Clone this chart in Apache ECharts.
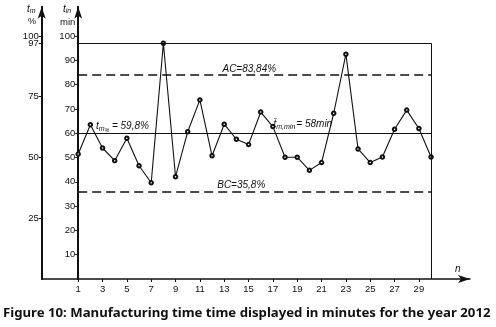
<!DOCTYPE html>
<html>
<head>
<meta charset="utf-8">
<script src="https://cdn.jsdelivr.net/npm/echarts@6/dist/echarts.min.js"></script>
<style>
  html, body { margin: 0; padding: 0; background: #fff; }
  #chart { width: 496px; height: 327px; }
</style>
</head>
<body>
<div id="chart"></div>
<script>
// measurement number n and time t_in (min)
const nValues = [1, 2, 3, 4, 5, 6, 7, 8, 9, 10, 11, 12, 13, 14, 15,
  16, 17, 18, 19, 20, 21, 22, 23, 24, 25, 26, 27, 28, 29, 30];
const timeMin = [51.4, 63.5, 53.9, 48.7, 57.9, 46.6, 39.6, 97, 42.1, 60.6,
  73.7, 50.7, 63.7, 57.5, 55.3, 68.7, 62.7, 50.1, 50.1, 44.7,
  47.9, 68.2, 92.5, 53.5, 47.9, 50.2, 61.6, 69.5, 61.9, 50.2];

// tick labels
const xTicks = [1, 3, 5, 7, 9, 11, 13, 15, 17, 19, 21, 23, 25, 27, 29];
const minTicks = [10, 20, 30, 40, 50, 60, 70, 80, 90, 100];
const pctTicks = [25, 50, 75, 97];
const pctTopTick = [100];

// reference levels
const upperLevel = 97;
const acLevel = 83.84;
const meanLevel = 59.8;
const bcLevel = 35.8;
const firstN = 1;
const lastN = 30;

var chart = echarts.init(document.getElementById('chart'));

const axisFont = { color: '#111', fontSize: 9.5, fontFamily: 'Liberation Sans' };
const labelFont = { fontFamily: 'Liberation Sans', fontSize: 10, fontStyle: 'italic', color: '#111' };

function hLine(v, dashed) {
  return [
    { coord: [firstN, v], lineStyle: { type: dashed ? [9, 5] : 'solid', width: dashed ? 1.5 : 1.2, color: '#111' } },
    { coord: [lastN, v] }
  ];
}

function yAxisOf(ticks, offset, showLine) {
  return {
    type: 'value', min: 0, max: 112, position: 'left', offset: offset,
    splitLine: { show: false },
    axisLine: { show: showLine, onZero: false, lineStyle: { color: '#111', width: 2 }, symbol: ['none', 'arrow'], symbolSize: [6, 12] },
    axisTick: { show: true, customValues: ticks, length: 3, lineStyle: { color: '#111' } },
    axisLabel: Object.assign({ customValues: ticks, margin: 3, hideOverlap: false }, axisFont)
  };
}

var option = {
  animation: false,
  grid: { left: 41.7, right: 26, top: 6.8, bottom: 48, outerBoundsMode: 'none', containLabel: false },
  xAxis: {
    type: 'value',
    min: -2,
    max: 33.2,
    splitLine: { show: false },
    axisLine: { onZero: false, lineStyle: { color: '#111', width: 1.5 }, symbol: ['none', 'arrow'], symbolSize: [6, 12] },
    axisTick: { customValues: xTicks, length: 3, lineStyle: { color: '#111' } },
    axisLabel: Object.assign({ customValues: xTicks, margin: 5, hideOverlap: false }, axisFont)
  },
  yAxis: [
    yAxisOf(pctTicks, 0, true),
    yAxisOf(minTicks, -36.5, true),
    yAxisOf(pctTopTick, 0, false)
  ],
  graphic: [
    { type: 'text', left: 27, top: 4, style: { text: '{t|t}{s|m}', rich: {
      t: { fontFamily: 'Liberation Sans', fontStyle: 'italic', fontSize: 10, fill: '#111' },
      s: { fontFamily: 'Liberation Sans', fontStyle: 'italic', fontSize: 7, fill: '#111', padding: [5, 0, 0, 0] } } } },
    { type: 'text', left: 28, top: 17, style: { text: '%', font: '9px Liberation Sans', fill: '#111' } },
    { type: 'text', left: 63, top: 4, style: { text: '{t|t}{s|in}', rich: {
      t: { fontFamily: 'Liberation Sans', fontStyle: 'italic', fontSize: 10, fill: '#111' },
      s: { fontFamily: 'Liberation Sans', fontStyle: 'italic', fontSize: 7, fill: '#111', padding: [5, 0, 0, 0] } } } },
    { type: 'text', left: 60, top: 17, style: { text: 'min', font: '9.5px Liberation Sans', fill: '#111' } },
    { type: 'text', left: 455, top: 264, style: { text: 'n', font: 'italic 10px Liberation Sans', fill: '#111' } },
    { type: 'text', left: 3, top: 307, style: {
      text: 'Figure 10: Manufacturing time time displayed in minutes for the year 2012',
      font: 'bold 13.2px Noto Sans', fill: '#111' } }
  ],
  series: [
    {
      type: 'line',
      data: nValues.map((n, i) => [n, timeMin[i]]),
      yAxisIndex: 0,
      symbol: 'emptyCircle',
      symbolSize: 3.5,
      showAllSymbol: true,
      lineStyle: { color: '#111', width: 1.1 },
      itemStyle: { color: '#111', borderWidth: 0.9 },
      markLine: {
        silent: true,
        symbol: ['none', 'none'],
        label: { show: false },
        data: [
          hLine(upperLevel, false),
          hLine(acLevel, true),
          hLine(meanLevel, false),
          hLine(bcLevel, true),
          [
            { coord: [lastN, 0], lineStyle: { type: 'solid', width: 1, color: '#111' } },
            { coord: [lastN, upperLevel] }
          ]
        ]
      },
      markPoint: {
        silent: true,
        symbolSize: 0,
        label: { show: true, position: 'inside' },
        data: [
          { coord: [15.06, 86.3], label: Object.assign({ formatter: 'AC=83,84%' }, labelFont) },
          { coord: [14.4, 38.6], label: Object.assign({ formatter: 'BC=35,8%' }, labelFont) },
          { coord: [4.64, 62.8], label: { formatter: '{t|t}{s|m}{p|%}{e| = 59,8%}', rich: {
            t: labelFont,
            s: { fontFamily: 'Liberation Sans', fontStyle: 'italic', fontSize: 7, color: '#111', padding: [5, 0, 0, 0] },
            p: { fontFamily: 'Liberation Sans', fontStyle: 'italic', fontSize: 5, color: '#111', padding: [8, 0, 0, 0] },
            e: labelFont } } },
          { coord: [19.46, 63.7], label: { formatter: '{t|t\u0304}{s|m,min}{e|= 58min}', rich: {
            t: labelFont,
            s: { fontFamily: 'Liberation Sans', fontStyle: 'italic', fontSize: 7, color: '#111', padding: [5, 1, 0, 0] },
            e: labelFont } } }
        ]
      }
    }
  ]
};
chart.setOption(option);
</script>
</body>
</html>
